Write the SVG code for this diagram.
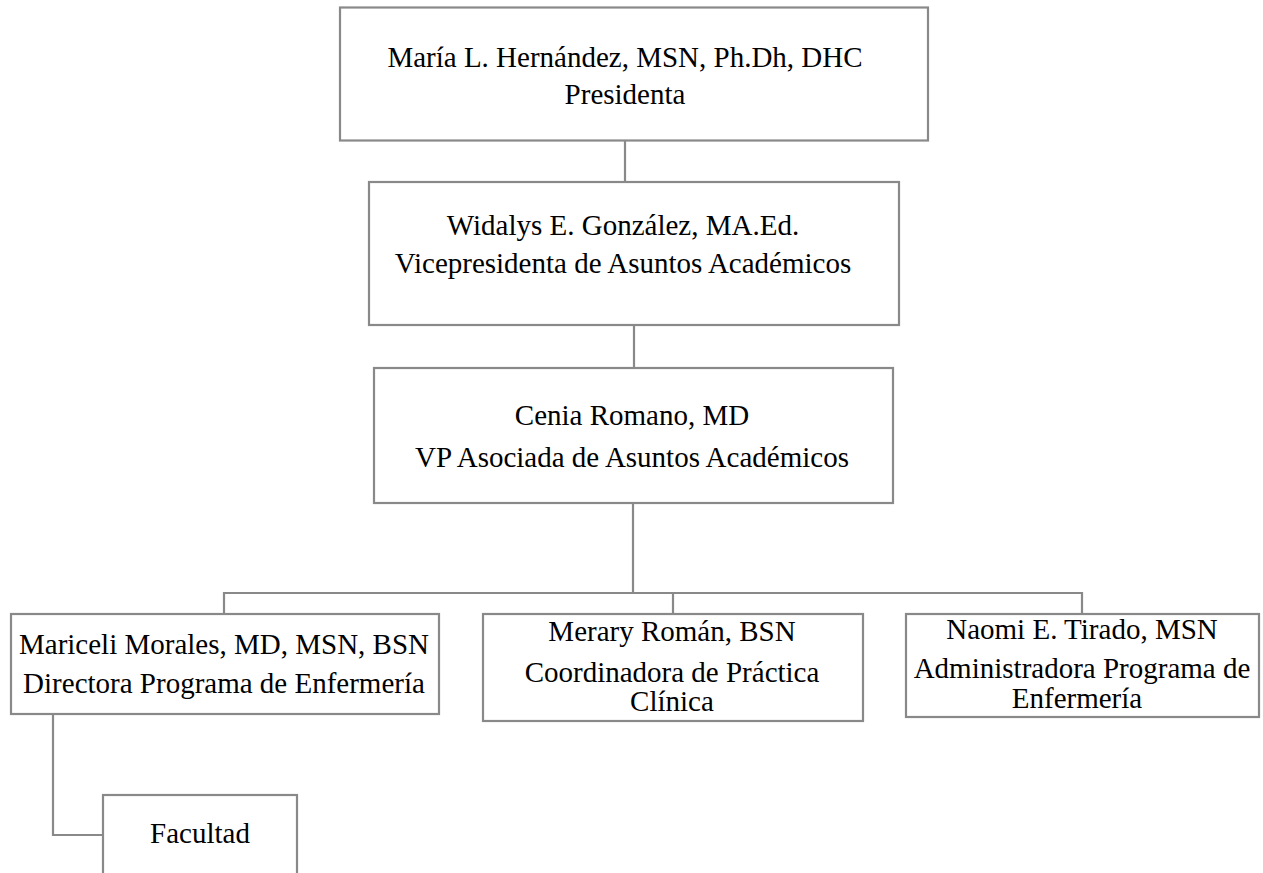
<svg xmlns="http://www.w3.org/2000/svg" width="1263" height="873" viewBox="0 0 1263 873">
<style>
.box{fill:#ffffff;stroke:#898989;stroke-width:2.2}
.ln{fill:none;stroke:#898989;stroke-width:2.2}
text{font-family:"Liberation Serif","Times New Roman",serif;font-size:29px;fill:#000;text-anchor:middle}
</style>
<rect width="1263" height="873" fill="#ffffff"/>
<g id="connectors">
<line class="ln" x1="625" y1="141" x2="625" y2="182"/>
<line class="ln" x1="634" y1="325" x2="634" y2="368"/>
<line class="ln" x1="633" y1="503" x2="633" y2="593"/>
<line class="ln" x1="224" y1="593" x2="1082" y2="593"/>
<line class="ln" x1="224" y1="592" x2="224" y2="614"/>
<line class="ln" x1="673" y1="593" x2="673" y2="614"/>
<line class="ln" x1="1082" y1="592" x2="1082" y2="614"/>
<polyline class="ln" points="53,714 53,835 103,835"/>
</g>
<g id="n-presidenta">
<rect class="box" x="340" y="7.5" width="588" height="133"/>
<text x="625" y="67">María L. Hernández, MSN, Ph.Dh, DHC</text>
<text x="625" y="104">Presidenta</text>
</g>
<g id="n-vicepresidenta">
<rect class="box" x="369" y="182" width="530" height="143"/>
<text x="623" y="235">Widalys E. González, MA.Ed.</text>
<text x="623" y="273">Vicepresidenta de Asuntos Académicos</text>
</g>
<g id="n-vp-asociada">
<rect class="box" x="374" y="368" width="519" height="135"/>
<text x="632" y="425">Cenia Romano, MD</text>
<text x="632" y="467">VP Asociada de Asuntos Académicos</text>
</g>
<g id="n-directora">
<rect class="box" x="11" y="614" width="428" height="100"/>
<text x="224" y="654">Mariceli Morales, MD, MSN, BSN</text>
<text x="224" y="693">Directora Programa de Enfermería</text>
</g>
<g id="n-coordinadora">
<rect class="box" x="483" y="614" width="380" height="107"/>
<text x="672" y="641">Merary Román, BSN</text>
<text x="672" y="682">Coordinadora de Práctica</text>
<text x="672" y="711">Clínica</text>
</g>
<g id="n-administradora">
<rect class="box" x="906" y="614" width="353" height="103"/>
<text x="1082" y="639">Naomi E. Tirado, MSN</text>
<text x="1082" y="678">Administradora Programa de</text>
<text x="1077" y="708">Enfermería</text>
</g>
<g id="n-facultad">
<rect class="box" x="103" y="795" width="194" height="100"/>
<text x="200" y="843">Facultad</text>
</g>
</svg>
